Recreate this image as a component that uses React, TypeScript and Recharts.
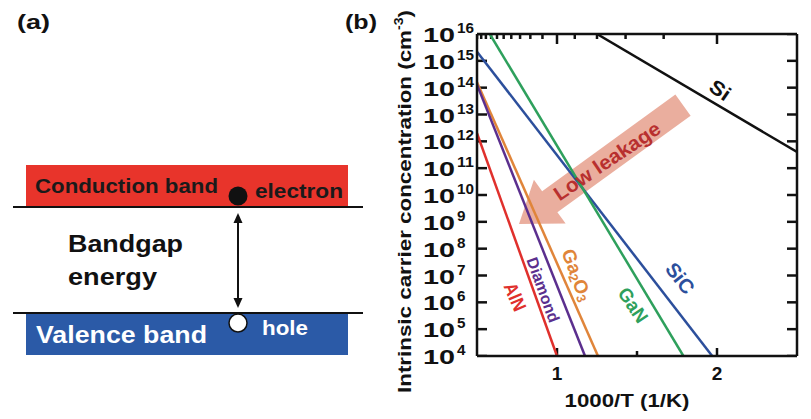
import { LineChart, Line, XAxis, YAxis, ReferenceLine, ReferenceDot } from 'recharts';

const FONT = '"Liberation Sans", Arial, Helvetica, sans-serif';

// x = 1000/T (1/K), n = intrinsic carrier concentration (cm^-3)
const SI_X = [1.25, 2.5];
const SI_N = [1e16, 4e11];
const SIC_X = [0.5, 1.97];
const SIC_N = [2.2e15, 1e4];
const GAN_X = [0.58, 1.79];
const GAN_N = [1e16, 1e4];
const GA2O3_X = [0.5, 1.256];
const GA2O3_N = [1.6e14, 1e4];
const DIAMOND_X = [0.5, 1.175];
const DIAMOND_N = [1.3e14, 1e4];
const ALN_X = [0.5, 1.0];
const ALN_N = [2e12, 1e4];

const Y_TICKS = [1e4, 1e5, 1e6, 1e7, 1e8, 1e9, 1e10, 1e11, 1e12, 1e13, 1e14, 1e15, 1e16];
const X_TICKS = [1, 1.5, 2];
const X_LABELS = [1, 2];
// top axis: temperature marks (K)
const TOP_TEMPS = [2000, 1900, 1800, 1700, 1600, 1500, 1400, 1300, 1200, 1100, 1000, 900, 800, 700, 600, 500];
const TOP_MAJOR = [1000, 500];

const W = 811;
const H = 419;
const PLOT_LEFT = 477;
const PLOT_TOP = 34;
const PLOT_BOTTOM = 356;
const PLOT_RIGHT = 797;
const X_MIN = 0.5;
const X_MAX = 2.5;
const N_MIN = 1e4;
const N_MAX = 1e16;

// tick lengths converted to data units
const X_PER_PX = (X_MAX - X_MIN) / (PLOT_RIGHT - PLOT_LEFT);
const DEC_PER_PX = Math.log10(N_MAX / N_MIN) / (PLOT_BOTTOM - PLOT_TOP);
const upFrom = (n: number, px: number) => n * Math.pow(10, px * DEC_PER_PX);

const toPoints = (xs: number[], ns: number[]) => xs.map((x, i) => ({ x, n: ns[i] }));

const SERIES = [
  { name: 'Si', xs: SI_X, ns: SI_N, color: '#111111' },
  { name: 'SiC', xs: SIC_X, ns: SIC_N, color: '#2c4f9c' },
  { name: 'GaN', xs: GAN_X, ns: GAN_N, color: '#2ea05c' },
  { name: 'Ga2O3', xs: GA2O3_X, ns: GA2O3_N, color: '#e0853a' },
  { name: 'Diamond', xs: DIAMOND_X, ns: DIAMOND_N, color: '#5b2f8e' },
  { name: 'AlN', xs: ALN_X, ns: ALN_N, color: '#e0302c' },
];

// rotated series labels, placed in data units
const LABELS = [
  { text: 'Si', x: 2.02, n: 8.1e13, angle: 35, size: 20, len: 21, color: '#111111' },
  { text: 'SiC', x: 1.77, n: 7.9e6, angle: 52, size: 20, len: 34, color: '#2c4f9c' },
  { text: 'GaN', x: 1.475, n: 7.9e5, angle: 56, size: 19, len: 38, color: '#2ea05c' },
  { text: 'Ga2O3', x: 1.125, n: 1.05e7, angle: 69, size: 19, len: 54, color: '#e0853a' },
  { text: 'Diamond', x: 0.9125, n: 2.9e6, angle: 70, size: 16, len: 68, color: '#5b2f8e' },
  { text: 'AlN', x: 0.7375, n: 1.6e6, angle: 67, size: 19, len: 29, color: '#e0302c' },
];

const ARROW_FROM = { x: 1.7875, n: 2.24e13 };
const ARROW_TO = { x: 0.7625, n: 8.3e8 };
const ARROW_TEXT = { x: 1.3125, n: 1.86e11 };

// inward frame ticks, each a two-point segment in data space
const TICK_SEGMENTS = [
  ...Y_TICKS.map((v) => [{ x: X_MIN, n: v }, { x: X_MIN + 10 * X_PER_PX, n: v }]),
  ...Y_TICKS.map((v) => [{ x: X_MAX - 10 * X_PER_PX, n: v }, { x: X_MAX, n: v }]),
  ...X_TICKS.map((x) => [{ x, n: N_MIN }, { x, n: upFrom(N_MIN, X_LABELS.includes(x) ? 8 : 5) }]),
  ...TOP_TEMPS.map((t) => [{ x: 1000 / t, n: N_MAX }, { x: 1000 / t, n: upFrom(N_MAX, TOP_MAJOR.includes(t) ? -10 : -5) }]),
];

function YTick(props: any) {
  const { y, payload } = props;
  const exp = String(Math.round(Math.log10(payload.value)));
  const x0 = PLOT_LEFT - 54;
  return (
    <g>
      <text x={x0} y={y + 8} fontFamily={FONT} fontWeight={700} fill="#111" fontSize={21} textLength={32} lengthAdjust="spacingAndGlyphs">10</text>
      <text x={x0 + 34} y={y - 1} fontFamily={FONT} fontWeight={700} fill="#111" fontSize={14} textLength={8.5 * exp.length} lengthAdjust="spacingAndGlyphs">{exp}</text>
    </g>
  );
}

function XTick(props: any) {
  const { x, payload } = props;
  if (!X_LABELS.includes(payload.value)) return <g />;
  return (
    <text x={x} y={PLOT_BOTTOM + 24} textAnchor="middle" fontFamily={FONT} fontWeight={700} fontSize={19} fill="#111">
      {payload.value}
    </text>
  );
}

function arrowShape(p: any) {
  const { x1, y1, x2, y2 } = p;
  const dx = x2 - x1;
  const dy = y2 - y1;
  const L = Math.hypot(dx, dy) || 1;
  const ux = dx / L;
  const uy = dy / L;
  const nx = -uy;
  const ny = ux;
  const hw = 13;
  const hh = 27;
  const hl = 38;
  const bx = x2 - ux * hl;
  const by = y2 - uy * hl;
  const pts = [
    [x1 + nx * hw, y1 + ny * hw],
    [bx + nx * hw, by + ny * hw],
    [bx + nx * hh, by + ny * hh],
    [x2, y2],
    [bx - nx * hh, by - ny * hh],
    [bx - nx * hw, by - ny * hw],
    [x1 - nx * hw, y1 - ny * hw],
  ];
  return <polygon points={pts.map((q) => q.join(',')).join(' ')} fill="#e8a593" fillOpacity={0.9} />;
}

function labelShape(lab: (typeof LABELS)[number]) {
  return (p: any) => {
    const { cx, cy } = p;
    const content =
      lab.text === 'Ga2O3' ? (
        <>
          Ga<tspan fontSize={13} dy={4}>2</tspan>
          <tspan dy={-4}>O</tspan>
          <tspan fontSize={13} dy={4}>3</tspan>
        </>
      ) : (
        lab.text
      );
    return (
      <text
        x={cx}
        y={cy}
        transform={`rotate(${lab.angle} ${cx} ${cy})`}
        textAnchor="middle"
        dominantBaseline="central"
        fill={lab.color}
        fontFamily={FONT}
        fontWeight={700}
        fontSize={lab.size}
        textLength={lab.len}
        lengthAdjust="spacingAndGlyphs"
      >
        {content}
      </text>
    );
  };
}

function lowLeakageShape(p: any) {
  const { cx, cy } = p;
  return (
    <text
      x={cx}
      y={cy}
      transform={`rotate(-34 ${cx} ${cy})`}
      textAnchor="middle"
      dominantBaseline="central"
      fill="#b8302f"
      fontFamily={FONT}
      fontWeight={700}
      fontSize={20}
      textLength={124}
      lengthAdjust="spacingAndGlyphs"
    >
      Low leakage
    </text>
  );
}

function BandDiagram() {
  const t = { fontFamily: FONT, fontWeight: 700 } as const;
  return (
    <svg width={W} height={H} style={{ position: 'absolute', left: 0, top: 0, pointerEvents: 'none' }}>
      <text x={17} y={29} fontSize={21} textLength={33} lengthAdjust="spacingAndGlyphs" fill="#111" {...t}>(a)</text>
      <text x={345} y={29} fontSize={21} textLength={32} lengthAdjust="spacingAndGlyphs" fill="#111" {...t}>(b)</text>

      {/* conduction band */}
      <rect x={26} y={165} width={322} height={42} fill="#e8342b" />
      <line x1={13} x2={363} y1={207} y2={207} stroke="#111" strokeWidth={2} />
      <text x={35} y={193} fontSize={21} textLength={183} lengthAdjust="spacingAndGlyphs" fill="#1a1a1a" {...t}>Conduction band</text>
      <circle cx={238} cy={196} r={9.5} fill="#111" />
      <text x={255} y={198} fontSize={21} textLength={88} lengthAdjust="spacingAndGlyphs" fill="#1a1a1a" {...t}>electron</text>

      {/* bandgap */}
      <line x1={238} x2={238} y1={220} y2={301} stroke="#111" strokeWidth={2} />
      <polygon points="238,213 233.5,223 242.5,223" fill="#111" />
      <polygon points="238,308 233.5,298 242.5,298" fill="#111" />
      <text x={68} y={252} fontSize={23} textLength={115} lengthAdjust="spacingAndGlyphs" fill="#111" {...t}>Bandgap</text>
      <text x={68} y={285} fontSize={23} textLength={89} lengthAdjust="spacingAndGlyphs" fill="#111" {...t}>energy</text>

      {/* valence band */}
      <rect x={26} y={314} width={322} height={41} fill="#2b5aa7" />
      <line x1={13} x2={363} y1={313} y2={313} stroke="#111" strokeWidth={2} />
      <text x={36} y={343} fontSize={24} textLength={171} lengthAdjust="spacingAndGlyphs" fill="#fff" {...t}>Valence band</text>
      <circle cx={238} cy={323} r={9} fill="#fff" stroke="#111" strokeWidth={1.5} />
      <text x={262} y={335} fontSize={21} textLength={46} lengthAdjust="spacingAndGlyphs" fill="#fff" {...t}>hole</text>

      {/* axis titles of panel (b) */}
      <g transform={`translate(411, 393) rotate(-90)`}>
        <text x={0} y={0} fontSize={19} textLength={383} lengthAdjust="spacingAndGlyphs" fill="#111" {...t}>
          Intrinsic carrier concentration (cm<tspan fontSize={12} dy={-8}>-3</tspan>
          <tspan dy={8}>)</tspan>
        </text>
      </g>
      <text x={627} y={407} textAnchor="middle" fontSize={19} textLength={125} lengthAdjust="spacingAndGlyphs" fill="#111" {...t}>
        1000/T (1/K)
      </text>
    </svg>
  );
}

export default function App() {
  const axisLine = { stroke: '#111', strokeWidth: 2.5 };
  return (
    <div style={{ position: 'absolute', left: 0, top: 0, width: W, height: H, background: '#fff' }}>
      <div style={{ position: 'absolute', left: 0, top: 0 }}>
        <LineChart width={W} height={H} margin={{ top: PLOT_TOP, right: W - PLOT_RIGHT, bottom: 0, left: 0 }}>
          <XAxis
            xAxisId="x"
            dataKey="x"
            type="number"
            domain={[X_MIN, X_MAX]}
            allowDataOverflow
            ticks={X_TICKS}
            interval={0}
            height={H - PLOT_BOTTOM}
            axisLine={axisLine}
            tickLine={false}
            tick={<XTick />}
          />
          <XAxis
            xAxisId="top"
            orientation="top"
            type="number"
            domain={[X_MIN, X_MAX]}
            allowDataOverflow
            mirror
            height={2}
            axisLine={axisLine}
            tickLine={false}
            tick={false}
          />
          <YAxis
            yAxisId="y"
            type="number"
            scale="log"
            domain={[N_MIN, N_MAX]}
            allowDataOverflow
            ticks={Y_TICKS}
            interval={0}
            width={PLOT_LEFT}
            axisLine={axisLine}
            tickLine={false}
            tick={<YTick />}
          />
          <YAxis
            yAxisId="yr"
            orientation="right"
            type="number"
            scale="log"
            domain={[N_MIN, N_MAX]}
            allowDataOverflow
            mirror
            width={2}
            axisLine={axisLine}
            tickLine={false}
            tick={false}
          />

          <ReferenceLine
            xAxisId="x"
            yAxisId="y"
            segment={[
              { x: ARROW_FROM.x, y: ARROW_FROM.n },
              { x: ARROW_TO.x, y: ARROW_TO.n },
            ]}
            shape={arrowShape}
          />
          <ReferenceDot xAxisId="x" yAxisId="y" x={ARROW_TEXT.x} y={ARROW_TEXT.n} r={1} shape={lowLeakageShape} />

          {/* frame tick marks drawn as short two-point lines */}
          {TICK_SEGMENTS.map((seg, i) => (
            <Line
              key={`tick-${i}`}
              xAxisId="x"
              yAxisId="y"
              data={seg}
              dataKey="n"
              stroke="#111"
              strokeWidth={2.5}
              dot={false}
              activeDot={false}
              legendType="none"
              isAnimationActive={false}
            />
          ))}

          {SERIES.map((s) => (
            <Line
              key={s.name}
              xAxisId="x"
              yAxisId="y"
              data={toPoints(s.xs, s.ns)}
              dataKey="n"
              name={s.name}
              stroke={s.color}
              strokeWidth={2.5}
              dot={false}
              activeDot={false}
              isAnimationActive={false}
            />
          ))}

          {LABELS.map((lab) => (
            <ReferenceDot key={lab.text} xAxisId="x" yAxisId="y" x={lab.x} y={lab.n} r={1} shape={labelShape(lab)} />
          ))}
        </LineChart>
      </div>
      <BandDiagram />
    </div>
  );
}
